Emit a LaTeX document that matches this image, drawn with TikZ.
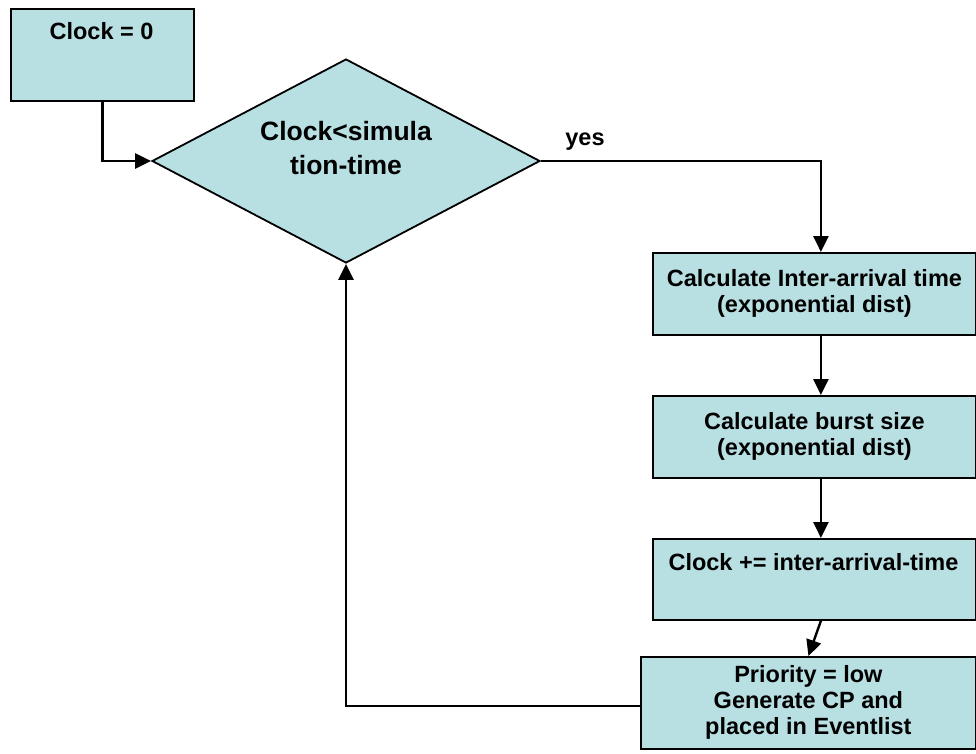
\documentclass[tikz,border=0pt]{standalone}
\usepackage{fontspec}
\setmainfont{Liberation Sans}
\usetikzlibrary{shapes.geometric,arrows.meta}
\definecolor{boxfill}{RGB}{184,223,226}
\begin{document}
\begin{tikzpicture}[x=1pt,y=-1pt,
  every node/.style={font=\fontsize{23.5}{26}\selectfont\bfseries, inner sep=0pt},
  procbox/.style={draw=black, line width=1.8pt, fill=boxfill, align=center, anchor=north west},
  decbox/.style={draw=black, line width=1.8pt, fill=boxfill, diamond, minimum width=388pt, minimum height=204pt},
  arr/.style={line width=2.4pt, -{Triangle[length=16pt,width=15pt]}},
  lbl/.style={align=center}]
\useasboundingbox (0,0) rectangle (976,753);
\node[procbox, minimum width=183pt, minimum height=92pt] (b1) at (10,8) {};
\node[lbl] (t1) at (101.5,31) {Clock = 0};
\node[decbox] (d) at (346,161) {};
\node[lbl, font=\fontsize{26.5}{34}\selectfont\bfseries] (td) at (346,148) {Clock<simula\\tion-time};
\node[procbox, minimum width=323pt, minimum height=82pt] (b2) at (652,252) {Calculate Inter-arrival time\\(exponential dist)};
\node[procbox, minimum width=323pt, minimum height=82pt] (b3) at (652,395) {Calculate burst size\\(exponential dist)};
\node[procbox, minimum width=323pt, minimum height=81pt] (b4) at (652,538) {};
\node[lbl] (t4) at (813.5,562) {Clock += inter-arrival-time};
\node[procbox, minimum width=335pt, minimum height=92pt] (b5) at (640,656) {Priority = low\\Generate CP and\\placed in Eventlist};
\node[lbl] (yes) at (585,142) {yes};
\draw[arr] (b1.south) |- (d.west);
\draw[arr] (d.east) -| ([xshift=6.5pt]b2.north);
\draw[arr] ([xshift=6.5pt]b2.south) -- ([xshift=6.5pt]b3.north);
\draw[arr] ([xshift=6.5pt]b3.south) -- ([xshift=6.5pt]b4.north);
\draw[arr] ([xshift=6.5pt]b4.south) -- (b5.north);
\draw[arr] ([yshift=-3pt]b5.west) -| (d.south);
\end{tikzpicture}
\end{document}
